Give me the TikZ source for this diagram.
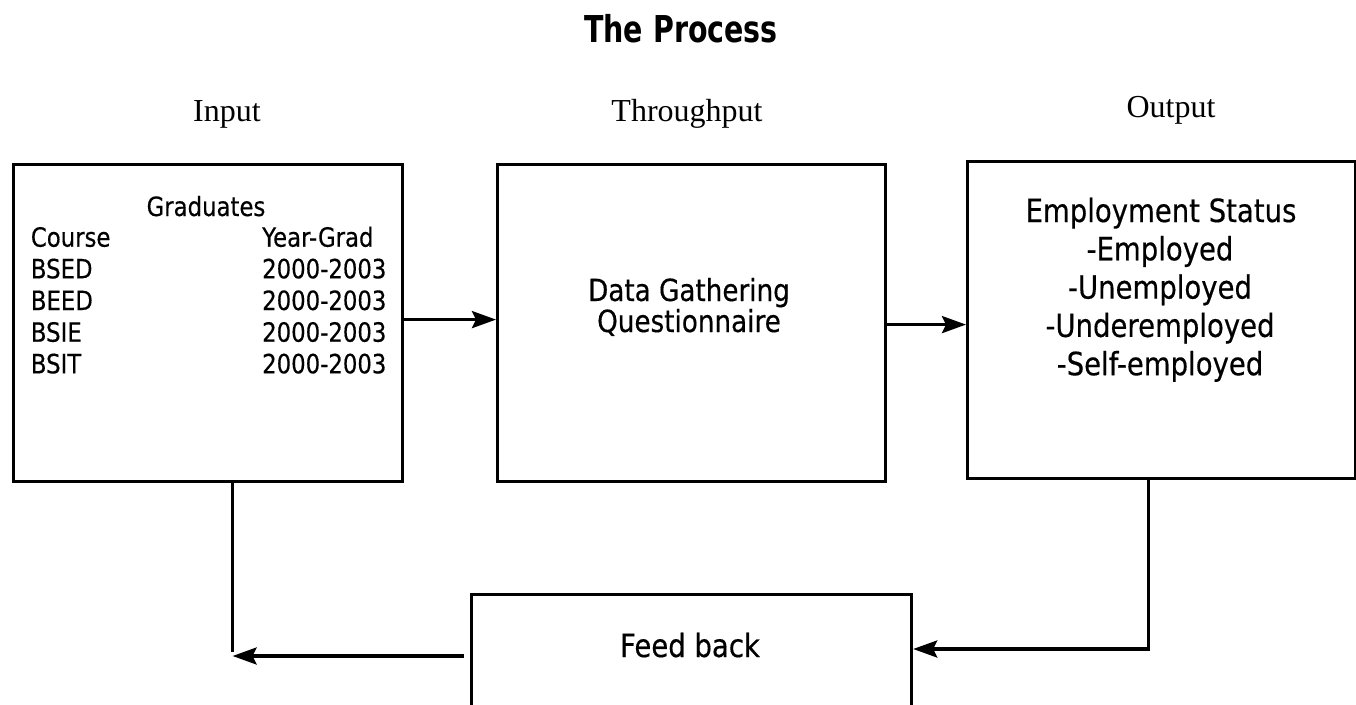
\documentclass[tikz,border=0pt]{standalone}
\usepackage{fontspec}
\setmainfont{Liberation Serif}
\newfontfamily\boxfont[FakeStretch=0.86, FakeBold=0.4]{DejaVu Sans}
\newfontfamily\titlefont[FakeStretch=0.77]{DejaVu Sans Bold}
\usetikzlibrary{arrows.meta}

\tikzset{
  frame/.style={draw=black, line width=3.2pt, anchor=north west, inner sep=0pt},
  arr/.style={line width=3.2pt, -{Stealth[length=24pt, width=17pt, inset=4pt]}},
  conn/.style={line width=3.2pt},
  headlbl/.style={inner sep=0pt, anchor=base, font=\fontsize{32}{38}\selectfont},
  small/.style={inner sep=0pt, font=\boxfont\fontsize{26.5}{31.7}\selectfont},
  big/.style={inner sep=0pt, anchor=base, font=\boxfont\fontsize{32}{38.3}\selectfont},
  mid/.style={inner sep=0pt, anchor=base, font=\boxfont\fontsize{30.5}{33}\selectfont},
}

\begin{document}
\begin{tikzpicture}[x=1pt, y=-1pt]
\useasboundingbox (0,0) rectangle (1356,704);
\clip (0,0) rectangle (1356,704);

% title and column headings
\node[inner sep=0pt, anchor=base, font=\titlefont\fontsize{37}{44}\selectfont] (title) at (681,42) {The Process};
\node[headlbl] (inlbl) at (227,121) {Input};
\node[headlbl] (thlbl) at (687,121) {Throughput};
\node[headlbl] (outlbl) at (1171,117) {Output};

% the four boxes
\node[frame, minimum width=389pt, minimum height=317pt] (inbox) at (12,163) {};
\node[frame, minimum width=388pt, minimum height=317pt] (thbox) at (496,163) {};
\node[frame, minimum width=388pt, minimum height=317pt] (outbox) at (966,160) {};
\node[frame, minimum width=440pt, minimum height=140pt] (fbbox) at (470,593) {};

% input box contents
\node[small, anchor=base] (grad) at (206,216) {Graduates};
\node[small, anchor=base west] (course) at (30.7,246.7) {Course};
\node[small, anchor=base west] (yeargrad) at (262,246.7) {Year-Grad};
\foreach \c/\y [count=\i] in {BSED/278.3, BEED/310, BSIE/341.7, BSIT/373.3} {
  \node[small, anchor=base west] (crs\i) at (30.7,\y) {\c};
  \node[small, anchor=base west] (yr\i) at (262,\y) {2000-2003};
}

% throughput box contents
\node[mid] (dg1) at (689,301) {Data Gathering};
\node[mid] (dg2) at (689,332) {Questionnaire};

% output box contents
\node[big] (es0) at (1161,222) {Employment Status};
\node[big] (es1) at (1160,260.3) {-Employed};
\node[big] (es2) at (1160,298.6) {-Unemployed};
\node[big] (es3) at (1160,336.9) {-Underemployed};
\node[big] (es4) at (1160,375.2) {-Self-employed};

% feedback box contents
\node[big] (fb) at (690,657) {Feed back};

% forward flow
\draw[arr] ([yshift=3.5pt]inbox.east) -- ([yshift=3.5pt]inbox.east -| thbox.west);
\draw[arr] ([yshift=-1.5pt]thbox.east) -- ([yshift=-1.5pt]thbox.east -| outbox.west);

% feedback loop
\coordinate (fbin) at ([yshift=-56pt]fbbox.north east);
\draw[arr] ([xshift=-13pt]outbox.south) |- (fbin);
\coordinate (fbout) at ([xshift=-6pt, yshift=-63pt]fbbox.north west);
\coordinate (backdrop) at ([xshift=24.5pt]inbox.south |- 0,652);
\coordinate (backtip) at ([xshift=24.5pt]inbox.south |- fbout);
\draw[conn] ([xshift=24.5pt]inbox.south) -- (backdrop);
\draw[arr] (fbout) -- (backtip);
\end{tikzpicture}
\end{document}
